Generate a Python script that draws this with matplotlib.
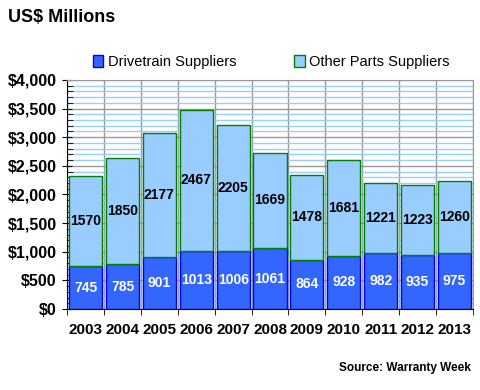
import numpy as np
import matplotlib.pyplot as plt
from matplotlib.ticker import MultipleLocator, FuncFormatter
from matplotlib.patches import Patch

plt.rcParams['font.family'] = ['Liberation Sans', 'DejaVu Sans']

# Data
years = ["2003", "2004", "2005", "2006", "2007", "2008", "2009", "2010", "2011", "2012", "2013"]
drivetrain = [745, 785, 901, 1013, 1006, 1061, 864, 928, 982, 935, 975]
other_parts = [1570, 1850, 2177, 2467, 2205, 1669, 1478, 1681, 1221, 1223, 1260]

fig = plt.figure(figsize=(4.8, 3.9), dpi=100)
ax = fig.add_axes([0.14, 0.2077, 0.845, 0.5873])

x = np.arange(len(years))
ax.bar(x, drivetrain, width=0.9, color="#3366FF", edgecolor="#0000EE", linewidth=1, zorder=3)
ax.bar(x, other_parts, bottom=drivetrain, width=0.9, color="#99CCFF",
       edgecolor="#008000", linewidth=1, zorder=3)

# value labels
for i in range(len(years)):
    ax.text(x[i], drivetrain[i] / 2, str(drivetrain[i]), ha="center", va="center",
            color="white", fontsize=10, fontweight="bold", zorder=4)
    ax.text(x[i], drivetrain[i] + other_parts[i] / 2, str(other_parts[i]), ha="center",
            va="center", color="black", fontsize=10, fontweight="bold", zorder=4)

ax.set_xlim(-0.5, len(years) - 0.5)
ax.set_ylim(0, 4000)
ax.yaxis.set_major_locator(MultipleLocator(500))
ax.yaxis.set_minor_locator(MultipleLocator(100))
ax.yaxis.set_major_formatter(FuncFormatter(lambda v, p: "${:,.0f}".format(v)))
ax.grid(axis="y", which="minor", color="#99CCFF", linewidth=1, zorder=0)
ax.grid(axis="y", which="major", color="#999999", linewidth=1, zorder=1)

# vertical separators between years
ax.set_xticks(x)
ax.set_xticklabels(years, fontsize=11, fontweight="bold")
ax.set_xticks(np.arange(-0.5, len(years)), minor=True)
ax.grid(axis="x", which="minor", color="#999999", linewidth=1, zorder=1)
ax.tick_params(axis="x", which="major", length=0, pad=10)
ax.tick_params(axis="x", which="minor", length=4, direction="out", color="black")
ax.tick_params(axis="y", which="major", length=7, direction="inout", labelsize=11.5, pad=4)
ax.tick_params(axis="y", which="minor", length=4, direction="in")
for lab in ax.get_yticklabels():
    lab.set_fontweight("bold")

ax.spines["top"].set_color("#999999")
ax.spines["right"].set_color("#999999")
ax.set_facecolor("white")

fig.text(0.017, 0.955, "US$ Millions", fontsize=13, fontweight="bold", va="center")

handles = [Patch(facecolor="#3366FF", edgecolor="#0000EE", label="Drivetrain Suppliers"),
           Patch(facecolor="#99CCFF", edgecolor="#008000", label="Other Parts Suppliers")]
fig.legend(handles=handles, loc="center", bbox_to_anchor=(0.565, 0.842), ncol=2,
           frameon=False, fontsize=10.5, handlelength=0.7, handleheight=0.9,
           handletextpad=0.3, columnspacing=4.0)

fig.text(0.98, 0.057, "Source: Warranty Week", fontsize=8.5, fontweight="bold",
         ha="right", va="center")

fig.savefig("out.png", dpi=100)
